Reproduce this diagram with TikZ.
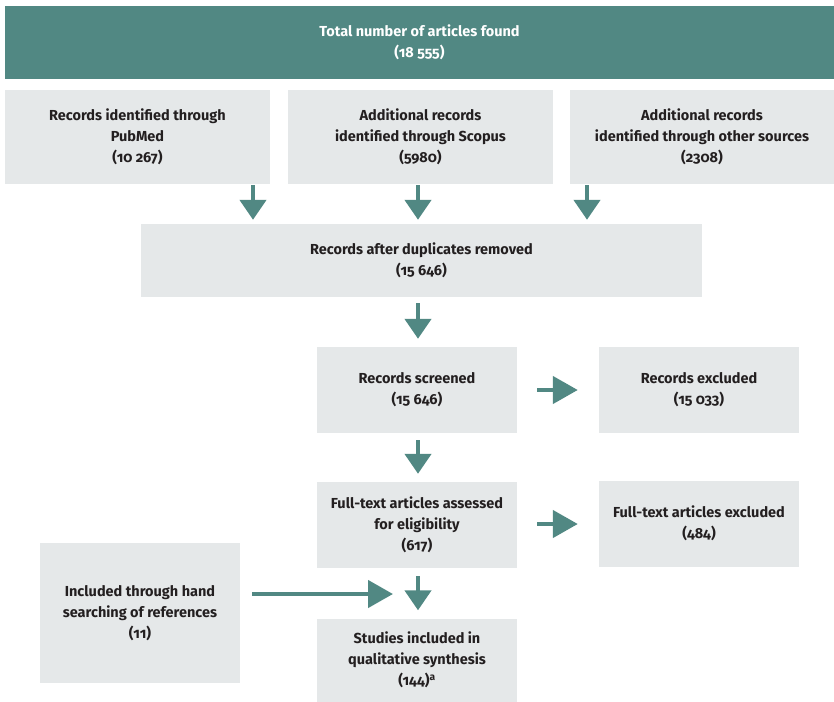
\documentclass[tikz,border=0pt]{standalone}
\usepackage{fontspec}
\setmainfont{Fira Sans}[Numbers=OldStyle]
\usetikzlibrary{arrows.meta}
\definecolor{teal1}{HTML}{518883}
\definecolor{boxgrey}{HTML}{E5E8E9}
\definecolor{ink}{HTML}{231F20}
\begin{document}
\begin{tikzpicture}[x=1pt,y=-1pt,
  box/.style={fill=boxgrey,draw=none,text=ink,align=center,inner sep=0pt,
    font=\fontsize{14.5}{21}\selectfont\bfseries},
  topbox/.style={fill=teal1,draw=none,text=white,align=center,inner sep=0pt,
    font=\fontsize{14.5}{21}\selectfont\bfseries},
  darr/.style={draw=teal1,line width=4.5pt,-{Triangle[length=20pt,width=26pt]},fill=teal1},
  rarr/.style={draw=teal1,line width=4.5pt,-{Triangle[length=25pt,width=27pt]},fill=teal1}]
\useasboundingbox (0,0) rectangle (834,701);
\node[topbox,minimum width=829pt,minimum height=73pt] (top) at (419.5,42.5) {Total number of articles found\\(18 555)};
\node[box,minimum width=265pt,minimum height=94pt] (b1) at (137.5,137) {Records identified through\\PubMed\\(10 267)};
\node[box,minimum width=265pt,minimum height=94pt] (b2) at (420.5,137) {Additional records\\identified through Scopus\\(5980)};
\node[box,minimum width=264pt,minimum height=94pt] (b3) at (702,137) {Additional records\\identified through other sources\\(2308)};
\node[box,minimum width=561pt,minimum height=73pt] (dup) at (421.5,260.5) {Records after duplicates removed\\(15 646)};
\node[box,minimum width=200pt,minimum height=86pt] (scr) at (417,390) {Records screened\\(15 646)};
\node[box,minimum width=200pt,minimum height=86pt] (exc) at (699,390) {Records excluded\\(15 033)};
\node[box,minimum width=200pt,minimum height=86pt] (ft) at (417,525) {Full-text articles assessed\\for eligibility\\(617)};
\node[box,minimum width=200pt,minimum height=86pt] (fte) at (699,523.5) {Full-text articles excluded\\(484)};
\node[box,minimum width=200pt,minimum height=140pt] (hand) at (140,613) {Included through hand\\searching of references\\(11)};
\node[box,minimum width=200pt,minimum height=83pt] (inc) at (417,660) {Studies included in\\qualitative synthesis\\(144)\textsuperscript{a}};
\coordinate (a1) at (253,0);
\coordinate (a2) at (418,0);
\coordinate (a3) at (587,0);
\coordinate (hx) at (393,594);
\draw[darr,shorten <=1pt,shorten >=4pt] (b1.south -| a1) -- (dup.north -| a1);
\draw[darr,shorten <=1pt,shorten >=4pt] (b2.south -| a2) -- (dup.north -| a2);
\draw[darr,shorten <=1pt,shorten >=4pt] (b3.south -| a3) -- (dup.north -| a3);
\draw[darr,shorten <=6pt,shorten >=8pt] (dup.south -| a2) -- (scr.north -| a2);
\draw[darr,shorten <=7pt,shorten >=8pt] (scr.south -| a2) -- (ft.north -| a2);
\draw[darr,shorten <=8pt,shorten >=8pt] (ft.south -| a2) -- (inc.north -| a2);
\draw[rarr,shorten <=20pt,shorten >=21pt] (scr.east |- 0,390) -- (exc.west |- 0,390);
\draw[rarr,shorten <=20pt,shorten >=21pt] (ft.east |- 0,524) -- (fte.west |- 0,524);
\draw[rarr,shorten <=12pt] (hand.east |- hx) -- (hx);
\end{tikzpicture}
\end{document}
